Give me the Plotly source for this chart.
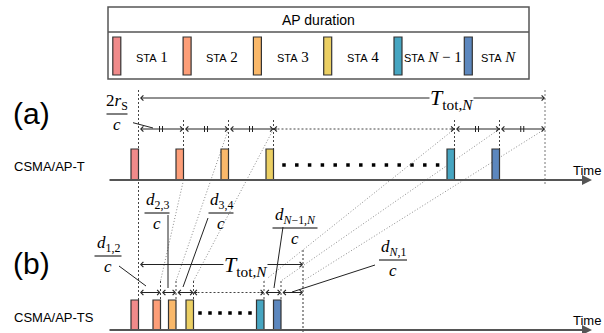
import plotly.graph_objects as go

# ---------------- data ----------------
sta_names = ["1", "2", "3", "4", "<i>N</i> − 1", "<i>N</i>"]
sta_colors = ["#F08A8A", "#FD9E78", "#F9B86A", "#EBCF63", "#46A5C1", "#5C87BE"]
# transmission start times (diagram time units) for scheme (a) CSMA/AP-T
a_starts = [131, 176, 221, 266, 447, 492]
a_end = 545
# transmission start times for scheme (b) CSMA/AP-TS
b_starts = [131, 153, 168.5, 186, 256.5, 273.5]
b_end = 303
bar_len = 7.5
delay_texts = ["<i>d</i><sub>1,2</sub>", "<i>d</i><sub>2,3</sub>", "<i>d</i><sub>3,4</sub>",
               "<i>d</i><sub><i>N</i>−1,<i>N</i></sub>", "<i>d</i><sub><i>N</i>,1</sub>"]

SERIF = "Liberation Serif"
SANS = "Liberation Sans"
DARK = "#222222"

shapes = []
annotations = []


def line(x0, y0, x1, y1, color=DARK, width=1, dash="solid"):
    shapes.append(dict(type="line", xref="x", yref="y", x0=x0, y0=y0, x1=x1, y1=y1,
                       line=dict(color=color, width=width, dash=dash)))


def rect(x0, y0, x1, y1, fill, color="#333333", width=1.2):
    shapes.append(dict(type="rect", xref="x", yref="y", x0=x0, y0=y0, x1=x1, y1=y1,
                       fillcolor=fill, line=dict(color=color, width=width)))


def arrow(xt, yt, xh, yh, both=False, color=DARK, width=1, head=4, size=1.0):
    annotations.append(dict(x=xh, y=yh, ax=xt, ay=yt, xref="x", yref="y", axref="x", ayref="y",
                            text="", showarrow=True, arrowhead=head, startarrowhead=head,
                            arrowside="end+start" if both else "end",
                            arrowsize=size, startarrowsize=size, arrowwidth=width,
                            arrowcolor=color, standoff=0, startstandoff=0))


def text(x, y, t, size=13, family=SANS, color="black", xanchor="center", bg=None):
    d = dict(x=x, y=y, xref="x", yref="y", text=t, showarrow=False, xanchor=xanchor,
             yanchor="middle", font=dict(family=family, size=size, color=color))
    if bg:
        d["bgcolor"] = bg
        d["borderpad"] = 0
    annotations.append(d)


def frac(xc, yl, num, hw):
    text(xc, yl - 12.5, num, size=17, family=SERIF)
    line(xc - hw, yl, xc + hw, yl, color="black", width=1)
    text(xc, yl + 10, "<i>c</i>", size=17, family=SERIF)


# ---------------- legend box ----------------
rect(108, 7, 529, 79, "rgba(0,0,0,0)", color="#555555", width=1.5)
line(108, 32, 529, 32, color="#555555", width=1.5)
text(318, 20, "AP duration", size=14)
for i, (nm, col) in enumerate(zip(sta_names, sta_colors)):
    x0 = 112.8 + i * 70.3
    rect(x0, 37, x0 + 8, 75, col)
    lx = 152 + i * 70.3 if i < 5 else 498
    text(lx, 57, "<span style='font-family:Liberation Sans;font-size:11px'>STA</span> " + nm,
         size=15, family=SERIF)

# ---------------- geometry ----------------
Ya_base, Ya_top, Ya_row, Ya_span = 180, 149, 129, 98
Yb_base, Yb_top, Yb_row, Yb_span = 330, 300, 292.5, 264.5
a_right = [s + bar_len for s in a_starts] + [a_end]
b_right = [s + bar_len for s in b_starts] + [b_end]
GRAY = "#8c8c8c"
FINE = "1px,2px"

# dotted mapping lines between the two schemes (drawn first, under bars)
line(a_right[1], Ya_base, b_right[1], 281, color=GRAY, dash=FINE)
for k in [2, 3, 4, 5, 6]:
    line(a_right[k], Ya_row, b_right[k], 281, color=GRAY, dash=FINE)

# verticals (a)
line(a_right[0], 90, a_right[0], Yb_top, color="#444444", dash="2px,2px")
for k in [1, 2, 3, 4, 5]:
    line(a_right[k], 120, a_right[k], Ya_top, color="#444444", dash="2px,2px")
line(a_end, 90, a_end, 186, color="#777777", width=1, dash="2px,2px")
# verticals (b)
for k in [1, 2, 3, 4, 5]:
    line(b_right[k], 281, b_right[k], Yb_top, color="#444444", dash="2px,2px")
line(b_end, 250, b_end, 333, color="#999999", width=2, dash="2px,2px")

# baselines
arrow(108, Ya_base, 592, Ya_base, color="#555555", width=2, head=2, size=1)
arrow(108, Yb_base, 592, Yb_base, color="#555555", width=2, head=2, size=1)
text(587, 170, "Time", size=13)
text(587, 320, "Time", size=13)

# bars
for s, col in zip(a_starts, sta_colors):
    rect(s, Ya_top, s + bar_len, Ya_base, col)
for s, col in zip(b_starts, sta_colors):
    rect(s, Yb_top, s + bar_len, Yb_base, col)

# dots
dots_a_x = [284 + 12.8 * k for k in range(13)]
dots_b_x = [200 + 10 * k for k in range(6)]

# (a) measurement row
for k in [0, 1, 2, 4, 5]:
    x0, x1 = a_right[k], a_right[k + 1]
    arrow(x0, Ya_row, x1, Ya_row, both=True)
    xm = (x0 + x1) / 2
    line(xm - 1.5, Ya_row - 3, xm - 1.5, Ya_row + 3, width=1)
    line(xm + 1.5, Ya_row - 3, xm + 1.5, Ya_row + 3, width=1)
line(a_right[3], Ya_row, a_right[4], Ya_row, color="#444444", dash="2px,2px")
arrow(a_right[3] + 5, Ya_row, a_right[3], Ya_row)
arrow(a_right[4] - 5, Ya_row, a_right[4], Ya_row)

# (b) measurement row
for k in [0, 1, 2, 4, 5]:
    arrow(b_right[k], Yb_row, b_right[k + 1], Yb_row, both=True)
line(b_right[3], Yb_row, b_right[4], Yb_row, color="#444444", dash="2px,2px")
arrow(b_right[3] + 5, Yb_row, b_right[3], Yb_row)
arrow(b_right[4] - 5, Yb_row, b_right[4], Yb_row)

# total span arrows
TT = "<i>T</i><sub>tot,<i>N</i></sub>"
arrow(a_right[0], Ya_span, a_end, Ya_span, both=True)
text(451, Ya_span + 1, TT, size=22, family=SERIF, bg="white")
arrow(b_right[0], Yb_span, b_end, Yb_span, both=True)
text(245, Yb_span + 1, TT, size=22, family=SERIF, bg="white")

# fractions and leaders
frac(117, 114, "2<i>r</i><sub>S</sub>", 10.5)
line(133, 122.7, 153, 128, width=1)
frac_specs = [(108, 256, 13.5, (119, 266, 146, 286)),
              (157, 213, 12.5, (168, 215, 168, 288)),
              (221, 213, 12.5, (208, 218, 183, 287)),
              (295, 228, 22.5, (283, 227, 274, 288)),
              (393, 260, 14, (375, 265, 292, 292))]
for t, (xc, yl, hw, ld) in zip(delay_texts, frac_specs):
    frac(xc, yl, t, hw)
    line(*ld, width=1)

# panel labels
text(11, 113, "(a)", size=30, xanchor="left")
text(11, 263, "(b)", size=30, xanchor="left")
text(12, 166, "CSMA/AP-T", size=13, xanchor="left")
text(12, 317, "CSMA/AP-TS", size=13, xanchor="left")

fig = go.Figure()
fig.add_trace(go.Scatter(x=dots_a_x, y=[165] * len(dots_a_x), mode="markers",
                         marker=dict(symbol="square", size=3.5, color="black"),
                         hoverinfo="skip", showlegend=False))
fig.add_trace(go.Scatter(x=dots_b_x, y=[313] * len(dots_b_x), mode="markers",
                         marker=dict(symbol="square", size=3.5, color="black"),
                         hoverinfo="skip", showlegend=False))

fig.update_layout(width=604, height=333, margin=dict(l=0, r=0, t=0, b=0),
                  paper_bgcolor="white", plot_bgcolor="white", showlegend=False,
                  xaxis=dict(range=[0, 604], visible=False, fixedrange=True),
                  yaxis=dict(range=[333, 0], visible=False, fixedrange=True),
                  shapes=shapes, annotations=annotations)
# remove the default page margin so the 604x333 figure fills the window exactly
fig.write_html("out.html", config={"displayModeBar": False},
               post_script="document.body.style.margin='0';document.body.style.overflow='hidden';")
